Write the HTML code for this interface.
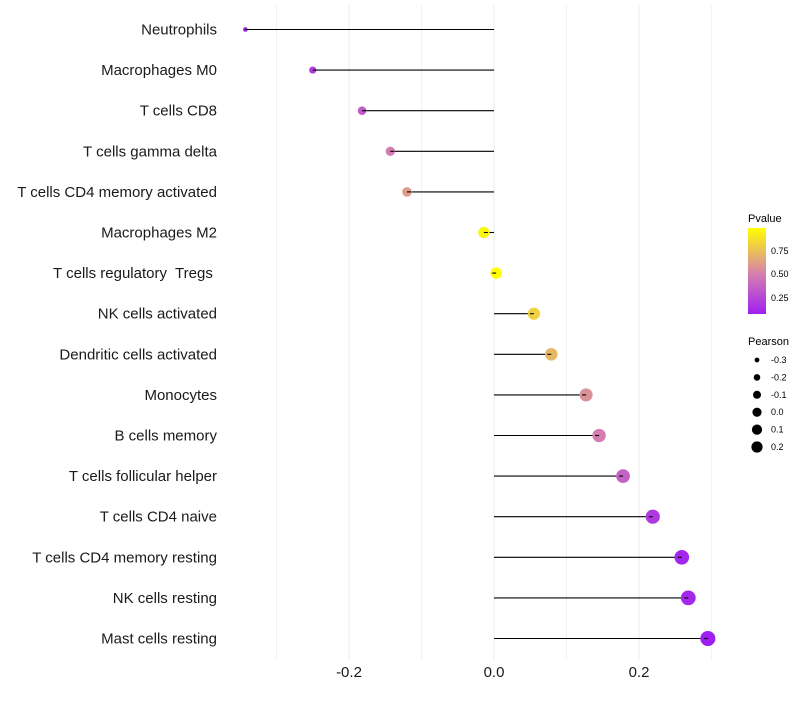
<!DOCTYPE html>
<html><head><meta charset="utf-8"><style>
body{margin:0;background:#fff;font-family:"Liberation Sans",sans-serif}
text{white-space:pre}
</style></head><body>
<svg id="c" width="800" height="700" xmlns="http://www.w3.org/2000/svg">
<defs><linearGradient id="pg" x1="0" y1="1" x2="0" y2="0">
<stop offset="0" stop-color="#A020F0"/><stop offset="0.45" stop-color="#D47CB4"/><stop offset="1" stop-color="#FFFF00"/></linearGradient></defs>
<g id="grid"></g><g id="marks"></g><g id="labels"></g>
<g font-size="9" fill="#000">
<text x="748" y="222" font-size="11">Pvalue</text>
<rect x="748" y="228" width="18" height="86" fill="url(#pg)"/>
<text x="771" y="254">0.75</text><text x="771" y="277">0.50</text><text x="771" y="301">0.25</text>
</g>
<g id="sizeleg" font-size="9">
<text x="748" y="345" font-size="11">Pearson</text>
</g>
</svg>
<script>
const categories=["Neutrophils","Macrophages M0","T cells CD8","T cells gamma delta","T cells CD4 memory activated","Macrophages M2","T cells regulatory  Tregs ","NK cells activated","Dendritic cells activated","Monocytes","B cells memory","T cells follicular helper","T cells CD4 naive","T cells CD4 memory resting","NK cells resting","Mast cells resting"];
const pearson=[-0.343,-0.25,-0.182,-0.143,-0.12,-0.014,0.003,0.055,0.079,0.127,0.145,0.178,0.219,0.259,0.268,0.295];
const pvalues=[0.12,0.22,0.35,0.5,0.62,0.96,0.99,0.82,0.72,0.58,0.5,0.38,0.2,0.12,0.12,0.08];
const xTicks=[-0.2,0,0.2];
const xMinor=[-0.3,-0.1,0.1,0.3];
const sizeLegend=[-0.3,-0.2,-0.1,0,0.1,0.2];
const NS="http://www.w3.org/2000/svg";
const X=v=>494+v*725;
const Y=i=>29.5+i*40.6;
const R=v=>Math.sqrt(5+(v+0.35)*80);
function col(p){const t=(p-0.09)/(0.995-0.09);
 const a=[160,32,240],m=[212,124,180],b=[255,255,0];let c;
 if(t<0.45){const k=t/0.45;c=a.map((x,j)=>x+(m[j]-x)*k)}else{const k=(t-0.45)/0.55;c=m.map((x,j)=>x+(b[j]-x)*k)}
 return `rgb(${c.map(Math.round).join(",")})`;}
function mk(t,at,p){const e=document.createElementNS(NS,t);for(const k in at)e.setAttribute(k,at[k]);p.appendChild(e);return e;}
const g=document.getElementById("grid"),mg=document.getElementById("marks"),lg=document.getElementById("labels");
xMinor.forEach(v=>{const l=mk("line",{x1:X(v),x2:X(v),y1:5,y2:660,stroke:"#f2f2f2","stroke-width":1},g);

});
xTicks.forEach(v=>{const l=mk("line",{x1:X(v),x2:X(v),y1:5,y2:660,stroke:"#ebebeb","stroke-width":1},g);


const t=mk("text",{x:X(v),y:677,"text-anchor":"middle","font-size":15,fill:"#1a1a1a"},lg);t.textContent=v===0?"0.0":v.toFixed(1);

});
categories.forEach((c,i)=>{const y=Y(i);
const t=mk("text",{x:217,y:y+5,"text-anchor":"end","font-size":15,fill:"#1a1a1a"},lg);t.textContent=c;


const l=mk("line",{x1:X(0),x2:X(pearson[i]),y1:y,y2:y,stroke:"#000","stroke-width":1.1},mg);


const d=mk("circle",{cx:X(pearson[i]),cy:y,r:R(pearson[i]),fill:col(pvalues[i])},mg);


mk("line",{x1:X(pearson[i]),x2:X(pearson[i])+(pearson[i]<0?4:-4),y1:y,y2:y,stroke:"#000","stroke-width":1.1},mg);});
const sl=document.getElementById("sizeleg");
sizeLegend.forEach((v,i)=>{const y=360+i*17.4;
const d=mk("circle",{cx:757,cy:y,r:R(v)*0.8,fill:"#000"},sl);


const t=mk("text",{x:771,y:y+3},sl);t.textContent=v===0?"0.0":v.toFixed(1);

});
</script>
</body></html>
